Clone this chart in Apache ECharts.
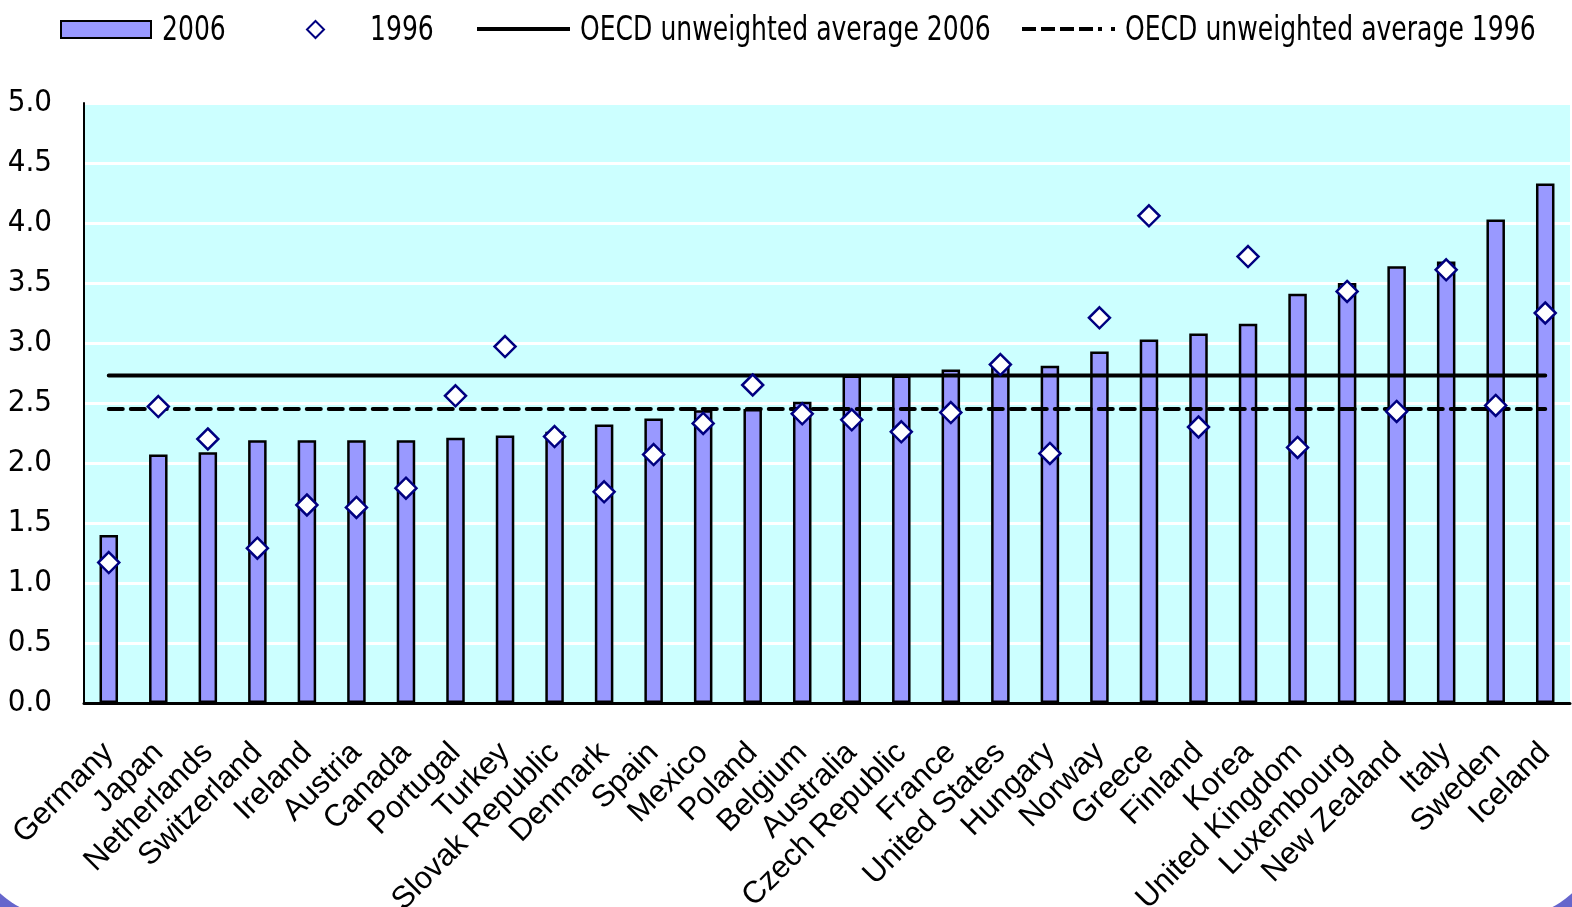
<!DOCTYPE html>
<html>
<head>
<meta charset="utf-8">
<script src="https://cdn.jsdelivr.net/npm/echarts@6/dist/echarts.min.js"></script>
<style>
  html, body { margin: 0; padding: 0; background: #ffffff; }
  #chart { width: 1572px; height: 907px; }
</style>
</head>
<body>
<div id="chart"></div>
<script>
// Countries, ordered by the 2006 value
const countries = ['Germany', 'Japan', 'Netherlands', 'Switzerland', 'Ireland', 'Austria', 'Canada',
  'Portugal', 'Turkey', 'Slovak Republic', 'Denmark', 'Spain', 'Mexico', 'Poland', 'Belgium',
  'Australia', 'Czech Republic', 'France', 'United States', 'Hungary', 'Norway', 'Greece',
  'Finland', 'Korea', 'United Kingdom', 'Luxembourg', 'New Zealand', 'Italy', 'Sweden', 'Iceland'];

const values2006 = [1.40, 2.07, 2.09, 2.19, 2.19, 2.19, 2.19, 2.21, 2.23, 2.26, 2.32, 2.37, 2.44, 2.45,
  2.51, 2.73, 2.73, 2.78, 2.81, 2.81, 2.93, 3.03, 3.08, 3.16, 3.41, 3.50, 3.64, 3.68, 4.03, 4.33];

const values1996 = [1.17, 2.47, 2.20, 1.29, 1.65, 1.63, 1.79, 2.56, 2.97, 2.22, 1.76, 2.07, 2.33, 2.65,
  2.41, 2.36, 2.26, 2.42, 2.82, 2.08, 3.21, 4.06, 2.30, 3.72, 2.13, 3.43, 2.43, 3.61, 2.48, 3.25];

const avg2006 = 2.73;
const avg1996 = 2.45;

const seriesNames = ['2006', '1996', 'OECD unweighted average 2006', 'OECD unweighted average 1996'];

const yTicks = ['0.0', '0.5', '1.0', '1.5', '2.0', '2.5', '3.0', '3.5', '4.0', '4.5', '5.0'];

const narrow = '"DejaVu Sans Condensed", "Liberation Sans Narrow", "Arial Narrow", sans-serif';
const regular = '"Liberation Sans", Arial, sans-serif';

// legend glyphs for the two average lines
const solidIcon = 'path://M0,0H93V4H0Z';
const dashIcon = 'path://M0,0H14V4H0Z M19,0H33V4H19Z M38,0H52V4H38Z M57,0H71V4H57Z M76,0H80V4H76Z M89,0H93V4H89Z';

const chart = echarts.init(document.getElementById('chart'), null, { renderer: 'canvas' });

// legend keys only; their captions are drawn as condensed text below
function legendAt(left, top, name, icon, w, h) {
  return {
    show: true,
    left: left,
    top: top,
    padding: 0,
    orient: 'horizontal',
    data: [{ name: name, icon: icon }],
    itemWidth: w,
    itemHeight: h,
    selectedMode: false,
    formatter: function () { return ''; },
    textStyle: { fontSize: 1, padding: 0 }
  };
}

// condensed legend captions
function caption(x, text) {
  return {
    type: 'text',
    x: x,
    y: 31,
    scaleX: 0.845,
    silent: true,
    style: {
      text: text,
      x: 0,
      y: 0,
      fontFamily: narrow,
      fontSize: 33,
      fill: '#000',
      align: 'left',
      verticalAlign: 'middle'
    }
  };
}

chart.setOption({
  animation: false,
  backgroundColor: '#6666CC',
  graphic: [
    {
      type: 'rect',
      z: -100,
      silent: true,
      shape: { x: -33, y: -200, width: 1638, height: 1119, r: 100 },
      style: { fill: '#ffffff' }
    },
    caption(162, seriesNames[0]),
    caption(370, seriesNames[1]),
    caption(580, seriesNames[2]),
    caption(1125, seriesNames[3])
  ],
  legend: [
    legendAt(60, 20, seriesNames[0], 'rect', 90, 17),
    legendAt(306, 20, seriesNames[1], 'diamond', 17, 17),
    legendAt(477, 27, seriesNames[2], solidIcon, 93, 4),
    legendAt(1022, 27, seriesNames[3], dashIcon, 93, 4)
  ],
  grid: {
    left: 84,
    right: 2,
    top: 103,
    bottom: 204,
    containLabel: false,
    outerBoundsMode: 'none',
    show: true,
    backgroundColor: '#CCFFFF',
    borderWidth: 0
  },
  xAxis: {
    type: 'category',
    data: countries,
    boundaryGap: true,
    axisLine: { show: true, lineStyle: { color: '#000', width: 3 } },
    axisTick: { show: false },
    axisLabel: {
      interval: 0,
      rotate: 45,
      margin: 45,
      fontFamily: regular,
      fontSize: 31,
      color: '#000'
    },
    splitLine: { show: false }
  },
  yAxis: {
    type: 'value',
    min: 0,
    max: 5,
    interval: 0.5,
    axisLine: { show: true, lineStyle: { color: '#000', width: 2 } },
    axisTick: { show: false },
    axisLabel: {
      margin: 32,
      fontFamily: narrow,
      fontSize: 31,
      color: '#000',
      formatter: function (v) { return yTicks[Math.round(v * 2)]; }
    },
    splitLine: { show: true, lineStyle: { color: '#ffffff', width: 3 } }
  },
  series: [
    {
      name: seriesNames[0],
      type: 'bar',
      data: values2006,
      barWidth: 18.5,
      itemStyle: { color: '#9999FF', borderColor: '#000', borderWidth: 2.5 },
      z: 2
    },
    {
      name: seriesNames[2],
      type: 'line',
      data: countries.map(function () { return avg2006; }),
      symbol: 'none',
      lineStyle: { color: '#000', width: 4, cap: 'round' },
      itemStyle: { color: '#000' },
      z: 3
    },
    {
      name: seriesNames[3],
      type: 'line',
      data: countries.map(function () { return avg1996; }),
      symbol: 'none',
      lineStyle: { color: '#000', width: 4, type: [14, 8], cap: 'round' },
      itemStyle: { color: '#000' },
      z: 3
    },
    {
      name: seriesNames[1],
      type: 'scatter',
      data: values1996,
      symbol: 'diamond',
      symbolSize: 21,
      itemStyle: { color: '#ffffff', borderColor: '#000080', borderWidth: 2.5, opacity: 1 },
      z: 4
    }
  ]
});
</script>
</body>
</html>
